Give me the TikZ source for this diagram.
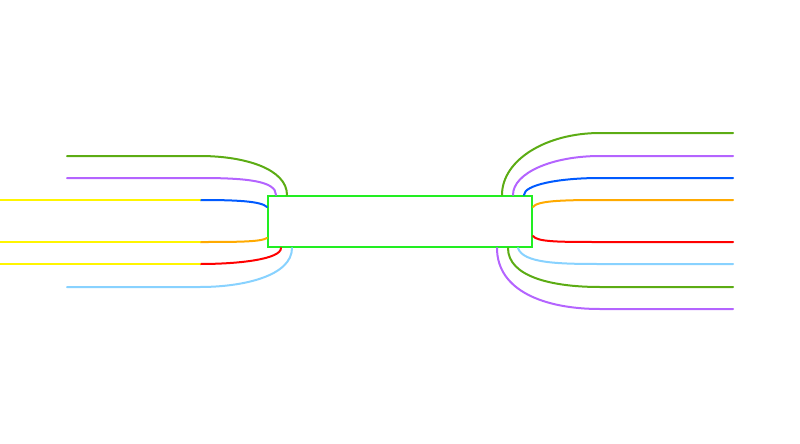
\documentclass[tikz,border=0pt]{standalone}
\usepackage{xcolor}
\usetikzlibrary{calc}

\definecolor{hubgreen}{RGB}{34,238,34}
\definecolor{leafgreen}{RGB}{92,172,20}
\definecolor{lilac}{RGB}{180,100,255}
\definecolor{deepblue}{RGB}{0,90,255}
\definecolor{amber}{RGB}{255,170,0}
\definecolor{hotred}{RGB}{255,0,0}
\definecolor{skyblue}{RGB}{136,210,255}
\definecolor{lemon}{RGB}{255,245,0}

\begin{document}
\begin{tikzpicture}[
    x=1pt, y=-1pt,
    hub/.style={rectangle, draw=hubgreen, fill=white, line width=2pt, minimum width=264pt, minimum height=51pt, inner sep=0pt},
    branch/.style={line width=2pt, line cap=round}
]
\useasboundingbox (0,0) rectangle (800,444);

% Central topic
\node[hub] (hub) at (400,221.5) {};

% Left topic anchors
\coordinate (lg) at (200,156);
\coordinate (lp) at (200,178);
\coordinate (lb) at (200,200);
\coordinate (lo) at (200,242);
\coordinate (lr) at (200,264);
\coordinate (ls) at (200,287);

% Right topic anchors
\coordinate (rg) at (600,133);
\coordinate (rp) at (600,156);
\coordinate (rb) at (600,178);
\coordinate (ro) at (600,200);
\coordinate (rr) at (600,242);
\coordinate (rs) at (600,264);
\coordinate (rg2) at (600,287);
\coordinate (rp2) at (600,309);

% Left branches
\draw[branch, leafgreen] ($(hub.north west)+(20,0)$) .. controls +(0,-26) and +(45,0) .. (lg) -- (67,156);
\draw[branch, lilac] ($(hub.north west)+(9,0)$) .. controls +(0,-14) and +(47,0) .. (lp) -- (67,178);
\draw[branch, deepblue] ($(hub.north west)+(0,12)$) .. controls +(-6,-6) and +(35,0) .. (lb);
\draw[branch, amber] ($(hub.south west)+(0,-10)$) .. controls +(-6,4) and +(35,0) .. (lo);
\draw[branch, hotred] ($(hub.south west)+(14,0)$) .. controls +(0,11) and +(40,0) .. (lr);
\draw[branch, skyblue] ($(hub.south west)+(25,0)$) .. controls +(0,28) and +(43,0) .. (ls) -- (67,287);

% Highlighted sub topics
\draw[branch, lemon] (lb) -- (0,200);
\draw[branch, lemon] (lo) -- (0,242);
\draw[branch, lemon] (lr) -- (0,264);

% Right branches
\draw[branch, leafgreen] ($(hub.north east)+(-31,0)$) .. controls +(0,-35) and +(-54,0) .. (rg) -- (733,133);
\draw[branch, lilac] ($(hub.north east)+(-20,0)$) .. controls +(0,-22) and +(-48,0) .. (rp) -- (733,156);
\draw[branch, deepblue] ($(hub.north east)+(-9,0)$) .. controls +(0,-10) and +(-42,0) .. (rb) -- (733,178);
\draw[branch, amber] ($(hub.north east)+(0,12)$) .. controls +(4,-6) and +(-40,0) .. (ro) -- (733,200);
\draw[branch, hotred] ($(hub.south east)+(0,-12)$) .. controls +(4,6) and +(-40,0) .. (rr) -- (733,242);
\draw[branch, skyblue] ($(hub.south east)+(-15,0)$) .. controls +(5,15) and +(-43,0) .. (rs) -- (733,264);
\draw[branch, leafgreen] ($(hub.south east)+(-25,0)$) .. controls +(0,28) and +(-50,0) .. (rg2) -- (733,287);
\draw[branch, lilac] ($(hub.south east)+(-36,0)$) .. controls +(0,43) and +(-55,0) .. (rp2) -- (733,309);

\end{tikzpicture}
\end{document}
